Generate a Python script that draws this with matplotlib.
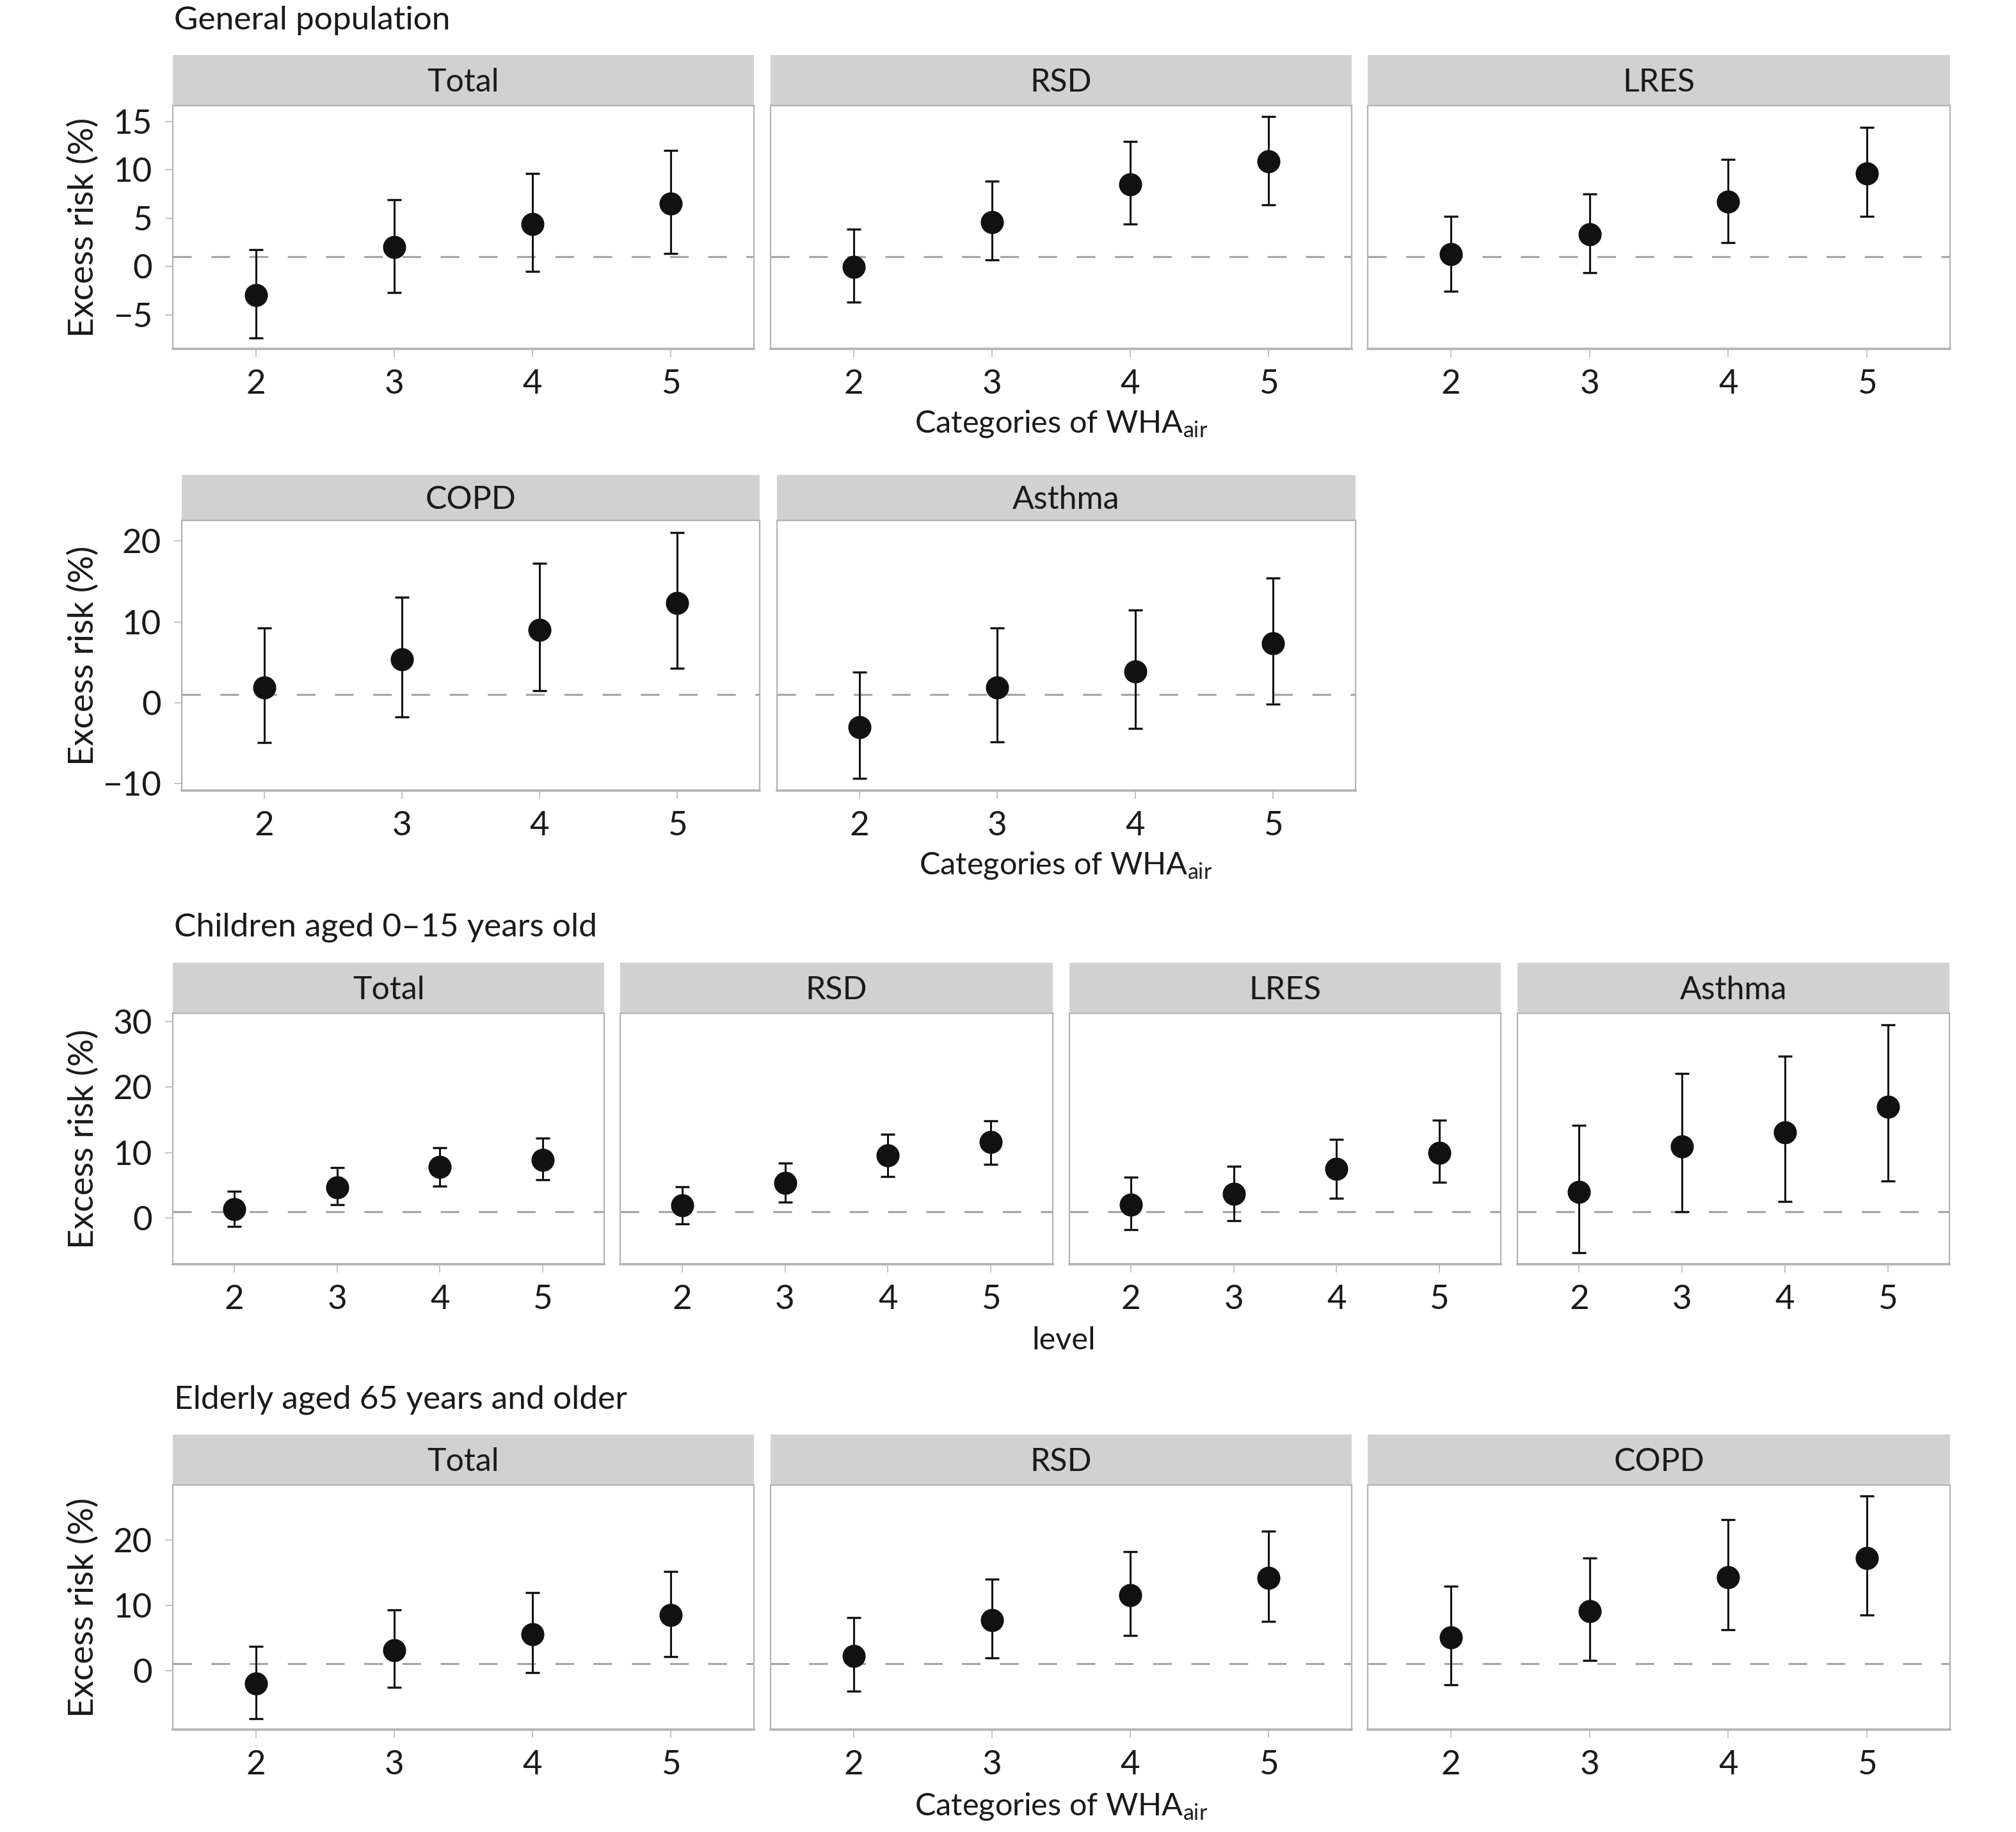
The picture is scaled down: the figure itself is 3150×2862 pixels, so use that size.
import matplotlib
matplotlib.use('Agg')
import matplotlib.pyplot as plt
import numpy as np

# data: excess risk (%) with 95% CI by WHA_air category (2-5 vs 1)
levels = [2, 3, 4, 5]

gen_row1_names = ['Total', 'RSD', 'LRES']
gen_row1_est = [[-3.0, 2.0, 4.35, 6.5], [-0.05, 4.6, 8.5, 10.85], [1.25, 3.35, 6.7, 9.65]]
gen_row1_lo = [[-7.4, -2.7, -0.5, 1.3], [-3.7, 0.7, 4.35, 6.4], [-2.55, -0.65, 2.45, 5.15]]
gen_row1_hi = [[1.7, 6.9, 9.6, 12.0], [3.85, 8.8, 12.9, 15.5], [5.2, 7.5, 11.1, 14.4]]

gen_row2_names = ['COPD', 'Asthma']
gen_row2_est = [[1.9, 5.4, 9.05, 12.35], [-3.0, 1.9, 3.9, 7.35]]
gen_row2_lo = [[-4.9, -1.75, 1.5, 4.3], [-9.35, -4.85, -3.15, -0.15]]
gen_row2_hi = [[9.25, 13.1, 17.3, 21.05], [3.8, 9.25, 11.5, 15.45]]

child_names = ['Total', 'RSD', 'LRES', 'Asthma']
child_est = [[1.4, 4.75, 7.8, 8.95], [1.95, 5.4, 9.55, 11.6], [2.1, 3.7, 7.5, 10.0], [4.0, 11.0, 13.1, 17.0]]
child_lo = [[-1.25, 2.05, 4.9, 5.9], [-0.85, 2.5, 6.4, 8.2], [-1.75, -0.35, 3.1, 5.5], [-5.25, 1.0, 2.6, 5.7]]
child_hi = [[4.1, 7.7, 10.8, 12.2], [4.85, 8.4, 12.8, 14.9], [6.25, 7.95, 12.0, 15.0], [14.2, 22.1, 24.7, 29.5]]

old_names = ['Total', 'RSD', 'COPD']
old_est = [[-2.0, 3.15, 5.6, 8.45], [2.25, 7.75, 11.55, 14.2], [5.05, 9.05, 14.3, 17.2]]
old_lo = [[-7.35, -2.55, -0.35, 2.1], [-3.2, 1.9, 5.35, 7.55], [-2.15, 1.5, 6.2, 8.5]]
old_hi = [[3.65, 9.25, 11.95, 15.2], [8.1, 13.95, 18.2, 21.3], [12.9, 17.2, 23.1, 26.7]]

ref_line = 1
ytick_steps = [5, 10, 10, 10]

# figure
W, H = 3150, 2862
plt.rcParams['font.family'] = ['Lato', 'DejaVu Sans']
plt.rcParams['mathtext.fontset'] = 'custom'
plt.rcParams['mathtext.rm'] = 'Lato'
plt.rcParams['mathtext.it'] = 'Lato:italic'
plt.rcParams['lines.scale_dashes'] = False
FS_TICK = 38
FS_STRIP = 36
FS_TITLE = 37
FS_XLAB = 35
FS_YLAB = 39
TXT = '#1a1a1a'
GRID = '#b3b3b3'

fig = plt.figure(figsize=(W / 100, H / 100), dpi=100)


def box(x0, y0, x1, y1):
    return [x0 / W, 1 - y1 / H, (x1 - x0) / W, (y1 - y0) / H]


def draw_row(xs, strip_top, strip_bot, panel_bot, names, est, lo, hi, step):
    allv = np.concatenate([np.ravel(lo), np.ravel(hi)])
    pad = 0.05 * (allv.max() - allv.min())
    ylim = (allv.min() - pad, allv.max() + pad)
    cap = FS_STRIP * 100 / 72 * 0.717
    for i, (x0, x1) in enumerate(xs):
        # strip
        sax = fig.add_axes(box(x0, strip_top, x1, strip_bot))
        sax.set_facecolor('#d1d1d1')
        sax.set_xticks([])
        sax.set_yticks([])
        for s in sax.spines.values():
            s.set_visible(False)
        yb = (strip_top + strip_bot) / 2 + cap / 2
        fig.text((x0 + x1) / 2 / W, 1 - yb / H, names[i], ha='center', va='baseline',
                 fontsize=FS_STRIP, color=TXT)

        ax = fig.add_axes(box(x0, strip_bot, x1, panel_bot))
        e = np.array(est[i])
        yerr = [e - np.array(lo[i]), np.array(hi[i]) - e]
        ax.axhline(ref_line, color='#a6a6a6', lw=2.3, dashes=(21, 22), zorder=1)
        ax.errorbar(levels, e, yerr=yerr, fmt='o', ms=25, color='#111111',
                    ecolor='#111111', elinewidth=2.2, capsize=8, capthick=2.4, zorder=3)
        ax.set_xlim(1.4, 5.6)
        ax.set_ylim(*ylim)
        ax.set_xticks(levels)
        ax.yaxis.set_major_locator(plt.MultipleLocator(step))
        ax.tick_params(axis='both', direction='out', length=9, width=1.1,
                       color=GRID, labelcolor=TXT, labelsize=FS_TICK)
        ax.tick_params(axis='x', pad=14)
        ax.tick_params(axis='y', pad=14)
        if i > 0:
            ax.tick_params(axis='y', left=False, labelleft=False)
        for s in ax.spines.values():
            s.set_color(GRID)
            s.set_linewidth(1.6)
        ax.spines['bottom'].set_linewidth(2.6)
    # y label
    fig.text(130 / W, 1 - (strip_bot + panel_bot) / 2 / H, 'Excess risk (%)',
             rotation=90, ha='center', va='center', fontsize=FS_YLAB, color=TXT)


row1_x = [(270, 1178), (1204, 2112), (2137, 3047)]
row2_x = [(284, 1187), (1214, 2118)]
row3_x = [(270, 944), (969, 1645), (1671, 2345), (2371, 3046)]
xlab = 'Categories of WHA$_{\\mathrm{air}}$'

fig.text(272 / W, 1 - 46 / H, 'General population', ha='left', va='baseline',
         fontsize=FS_TITLE, color=TXT)
draw_row(row1_x, 86, 165, 545, gen_row1_names, gen_row1_est, gen_row1_lo, gen_row1_hi, ytick_steps[0])
fig.text(1658 / W, 1 - 662 / H, xlab, ha='center', va='center', fontsize=FS_XLAB, color=TXT)

draw_row(row2_x, 742, 813, 1235, gen_row2_names, gen_row2_est, gen_row2_lo, gen_row2_hi, ytick_steps[1])
fig.text(1665 / W, 1 - 1352 / H, xlab, ha='center', va='center', fontsize=FS_XLAB, color=TXT)

fig.text(272 / W, 1 - 1463 / H, 'Children aged 0\u201315 years old', ha='left', va='baseline',
         fontsize=FS_TITLE, color=TXT)
draw_row(row3_x, 1504, 1583, 1975, child_names, child_est, child_lo, child_hi, ytick_steps[2])
fig.text(1662 / W, 1 - 2094 / H, 'level', ha='center', va='center', fontsize=FS_XLAB, color=TXT)

fig.text(272 / W, 1 - 2200 / H, 'Elderly aged 65 years and older', ha='left', va='baseline',
         fontsize=FS_TITLE, color=TXT)
draw_row(row1_x, 2241, 2320, 2702, old_names, old_est, old_lo, old_hi, ytick_steps[3])
fig.text(1658 / W, 1 - 2822 / H, xlab, ha='center', va='center', fontsize=FS_XLAB, color=TXT)

fig.savefig('out.png', dpi=100, facecolor='white')
